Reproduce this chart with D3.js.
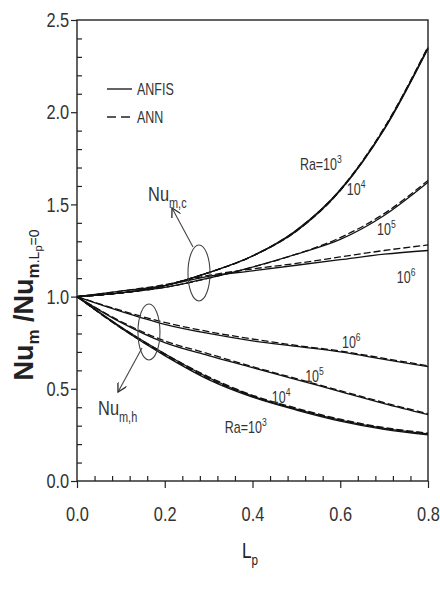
<!DOCTYPE html>
<html>
<head>
<meta charset="utf-8">
<script src="https://cdn.jsdelivr.net/npm/d3@7"></script>
<style>
  body { margin: 0; background: #fff; }
  svg { display: block; }
  text { font-family: "Liberation Sans", Arial, sans-serif; }
</style>
</head>
<body>
<svg id="chart" width="440" height="593"></svg>
<script>
// dimensionless partition length
const lp = [0, 0.1, 0.2, 0.3, 0.4, 0.5, 0.6, 0.7, 0.8];

// Nu_m,c / Nu_m,Lp=0 (upper bundle)
const coldAnfis3 = [1.0, 1.02, 1.06, 1.13, 1.22, 1.36, 1.58, 1.91, 2.35];
const coldAnn3   = [1.0, 1.02, 1.06, 1.13, 1.22, 1.36, 1.58, 1.915, 2.355];
const coldAnfis4 = [1.0, 1.02, 1.06, 1.13, 1.22, 1.355, 1.575, 1.905, 2.345];
const coldAnn4   = [1.0, 1.02, 1.06, 1.13, 1.22, 1.355, 1.575, 1.91, 2.35];
const coldAnfis5 = [1.0, 1.02, 1.05, 1.10, 1.16, 1.23, 1.31, 1.44, 1.62];
const coldAnn5   = [1.0, 1.02, 1.05, 1.10, 1.16, 1.23, 1.32, 1.45, 1.63];
const coldAnfis6 = [1.0, 1.03, 1.06, 1.11, 1.14, 1.17, 1.20, 1.23, 1.25];
const coldAnn6   = [1.0, 1.03, 1.065, 1.115, 1.15, 1.18, 1.215, 1.25, 1.28];

// Nu_m,h / Nu_m,Lp=0 (lower bundle)
const hotAnfis3 = [1.0, 0.83, 0.68, 0.55, 0.455, 0.385, 0.325, 0.28, 0.25];
const hotAnn3   = [1.0, 0.83, 0.685, 0.555, 0.46, 0.39, 0.33, 0.285, 0.255];
const hotAnfis4 = [1.0, 0.835, 0.69, 0.56, 0.46, 0.39, 0.33, 0.285, 0.255];
const hotAnn4   = [1.0, 0.835, 0.69, 0.565, 0.465, 0.395, 0.335, 0.29, 0.26];
const hotAnfis5 = [1.0, 0.86, 0.75, 0.68, 0.615, 0.55, 0.485, 0.42, 0.36];
const hotAnn5   = [1.0, 0.865, 0.76, 0.69, 0.62, 0.555, 0.49, 0.425, 0.365];
const hotAnfis6 = [1.0, 0.92, 0.85, 0.80, 0.76, 0.73, 0.70, 0.66, 0.62];
const hotAnn6   = [1.0, 0.925, 0.86, 0.81, 0.77, 0.735, 0.705, 0.665, 0.625];

const xTicks = [0, 0.2, 0.4, 0.6, 0.8];
const yTicks = [0, 0.5, 1.0, 1.5, 2.0, 2.5];

const svg = d3.select('#chart');
const margin = { top: 20, right: 12, bottom: 112, left: 77 };
const width = 440 - margin.left - margin.right;
const height = 593 - margin.top - margin.bottom;

const x = d3.scaleLinear().domain([0, 0.8]).range([margin.left, margin.left + width]);
const y = d3.scaleLinear().domain([0, 2.5]).range([margin.top + height, margin.top]);

const ink = '#222';
const squeeze = 'scale(0.78,1)'; // the original uses a condensed face

// frame
svg.append('rect')
   .attr('x', x(0)).attr('y', y(2.5))
   .attr('width', x(0.8) - x(0)).attr('height', y(0) - y(2.5))
   .attr('fill', 'none').attr('stroke', ink).attr('stroke-width', 1.4);

// x axis: major ticks outward, minor ticks inward
const xAxis = svg.append('g').attr('transform', `translate(0,${y(0)})`);
xAxis.call(d3.axisBottom(x).tickValues(xTicks).tickSize(7).tickPadding(18).tickFormat(d3.format('.1f')));
xAxis.append('g').call(d3.axisTop(x).tickValues(d3.range(0.04, 0.8, 0.04).filter(v => Math.abs(v / 0.2 - Math.round(v / 0.2)) > 1e-6))
     .tickSize(5).tickFormat(''));
xAxis.selectAll('.domain').remove();

const yAxis = svg.append('g').attr('transform', `translate(${x(0)},0)`);
yAxis.call(d3.axisLeft(y).tickValues(yTicks).tickSize(6).tickPadding(4).tickFormat(d3.format('.1f')));
yAxis.append('g').call(d3.axisRight(y).tickValues(d3.range(0.1, 2.5, 0.1).filter(v => Math.abs(v / 0.5 - Math.round(v / 0.5)) > 1e-6))
     .tickSize(5).tickFormat(''));
yAxis.selectAll('.domain').remove();

svg.selectAll('.tick line').attr('stroke', ink).attr('stroke-width', 1.2);
svg.selectAll('.tick text')
   .attr('transform', squeeze)
   .style('font-size', '21px')
   .attr('fill', '#333');

// curves
const line = d3.line()
  .x((d, i) => x(lp[i]))
  .y(d => y(d))
  .curve(d3.curveMonotoneX);

const anfisSeries = [coldAnfis3, coldAnfis4, coldAnfis5, coldAnfis6, hotAnfis3, hotAnfis4, hotAnfis5, hotAnfis6];
const annSeries = [coldAnn3, coldAnn4, coldAnn5, coldAnn6, hotAnn3, hotAnn4, hotAnn5, hotAnn6];

svg.append('g').selectAll('path')
   .data(annSeries).enter().append('path')
   .attr('d', line)
   .attr('fill', 'none').attr('stroke', '#111')
   .attr('stroke-width', 1.3)
   .attr('stroke-dasharray', '7,3');

svg.append('g').selectAll('path')
   .data(anfisSeries).enter().append('path')
   .attr('d', line)
   .attr('fill', 'none').attr('stroke', '#111')
   .attr('stroke-width', 1.3);

// condensed text placed at a pixel anchor
function narrowText(px, py, size) {
  return svg.append('g').attr('transform', `translate(${px},${py})`)
    .append('text').attr('transform', squeeze)
    .attr('fill', '#333').style('font-size', size + 'px');
}

// legend
svg.append('line').attr('x1', 107).attr('x2', 132).attr('y1', 89).attr('y2', 89)
   .attr('stroke', ink).attr('stroke-width', 1.4);
narrowText(137, 95, 16).text('ANFIS');
svg.append('line').attr('x1', 107).attr('x2', 132).attr('y1', 117).attr('y2', 117)
   .attr('stroke', ink).attr('stroke-width', 1.4).attr('stroke-dasharray', '9,5');
narrowText(137, 123, 16).text('ANN');

// Ra labels (position in data coordinates)
function raLabel(lpv, val, base, exp) {
  const t = narrowText(x(lpv), y(val), 16);
  t.append('tspan').text(base);
  t.append('tspan').attr('dy', -7).style('font-size', '11px').text(exp);
}
raLabel(0.508, 1.687, 'Ra=10', '3');
raLabel(0.615, 1.55, '10', '4');
raLabel(0.684, 1.334, '10', '5');
raLabel(0.729, 1.074, '10', '6');
raLabel(0.604, 0.721, '10', '6');
raLabel(0.52, 0.537, '10', '5');
raLabel(0.444, 0.423, '10', '4');
raLabel(0.337, 0.26, 'Ra=10', '3');

// ellipses and arrows
svg.append('defs').append('marker')
   .attr('id', 'arr').attr('viewBox', '0 0 10 10').attr('refX', 9).attr('refY', 5)
   .attr('markerWidth', 9).attr('markerHeight', 9).attr('orient', 'auto')
   .append('path').attr('d', 'M0,0 L9,5 L0,10').attr('fill', 'none').attr('stroke', '#333').attr('stroke-width', 1.4);

const gAnn = svg.append('g').attr('fill', 'none').attr('stroke', '#444').attr('stroke-width', 1.1);
gAnn.append('ellipse').attr('cx', x(0.278)).attr('cy', y(1.128)).attr('rx', 11).attr('ry', 28);
gAnn.append('ellipse').attr('cx', x(0.164)).attr('cy', y(0.808)).attr('rx', 11).attr('ry', 28);
gAnn.append('line').attr('x1', 193).attr('y1', 247).attr('x2', 172).attr('y2', 208).attr('marker-end', 'url(#arr)');
gAnn.append('line').attr('x1', 142).attr('y1', 348).attr('x2', 118).attr('y2', 392).attr('marker-end', 'url(#arr)');

function nuLabel(lpv, val, sub) {
  const t = narrowText(x(lpv), y(val), 21);
  t.append('tspan').text('Nu');
  t.append('tspan').attr('dy', 7).style('font-size', '14px').text(sub);
}
nuLabel(0.162, 1.52, 'm,c');
nuLabel(0.048, 0.358, 'm,h');

// axis titles
const xt = narrowText(242, 558, 22);
xt.attr('fill', '#222');
xt.append('tspan').text('L');
xt.append('tspan').attr('dy', 7).style('font-size', '15px').text('p');

const yt = svg.append('text')
   .attr('transform', 'translate(33,305) rotate(-90)')
   .attr('text-anchor', 'middle')
   .attr('fill', '#222')
   .style('font-weight', 'bold').style('font-size', '27px');
yt.append('tspan').text('Nu');
yt.append('tspan').attr('dy', 6).style('font-size', '17px').text('m');
yt.append('tspan').attr('dy', -6).text(' /Nu');
yt.append('tspan').attr('dy', 6).style('font-size', '17px').text('m');
yt.append('tspan').style('font-size', '14px').style('font-weight', 'normal').text('.L');
yt.append('tspan').attr('dy', 3).style('font-size', '11px').style('font-weight', 'normal').text('p');
yt.append('tspan').attr('dy', -3).style('font-size', '14px').style('font-weight', 'normal').text('=0');
</script>
</body>
</html>
